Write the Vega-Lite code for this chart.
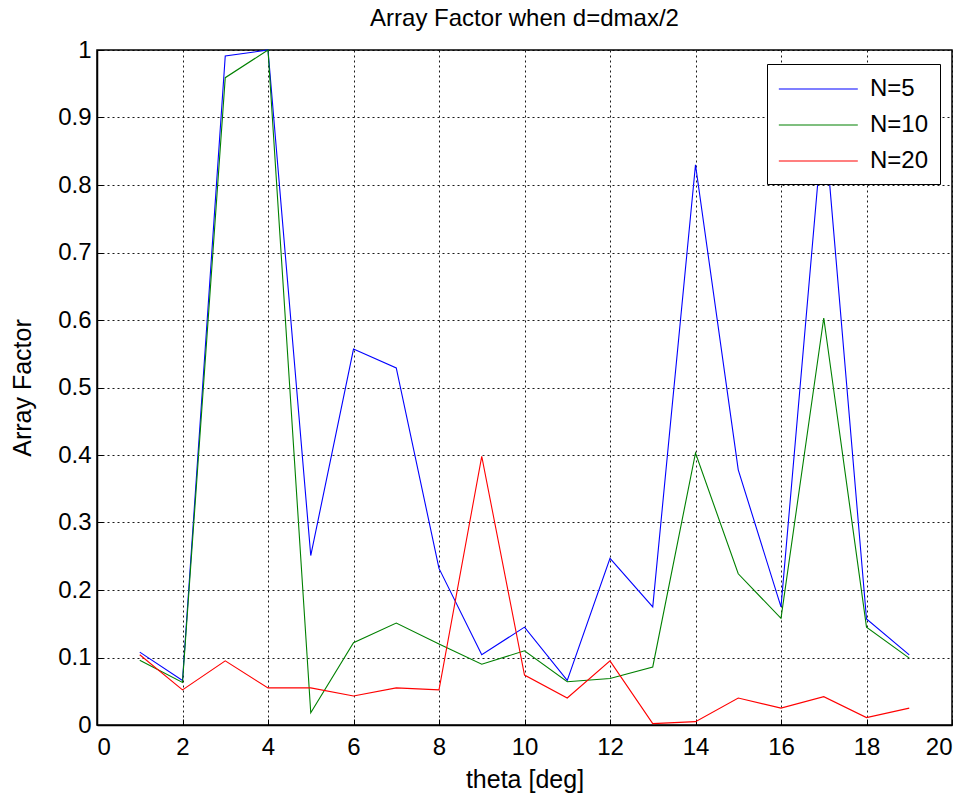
{
  "$schema": "https://vega.github.io/schema/vega-lite/v6.json",
  "autosize": {"type": "none"},
  "padding": {"left": 97, "top": 50, "right": 20, "bottom": 73},
  "width": 855,
  "height": 675,
  "background": "white",
  "title": {"text": "Array Factor when d=dmax/2", "fontSize": 24, "fontWeight": "normal", "font": "Liberation Sans", "color": "black", "offset": 7},
  "config": {
    "view": {"stroke": "black", "strokeWidth": 1.5},
    "font": "Liberation Sans"
  },
  "data": {"values": [
    {"theta": 1, "af": 0.108, "series": "N=5"},
    {"theta": 2, "af": 0.066, "series": "N=5"},
    {"theta": 3, "af": 0.991, "series": "N=5"},
    {"theta": 4, "af": 1.0, "series": "N=5"},
    {"theta": 5, "af": 0.251, "series": "N=5"},
    {"theta": 6, "af": 0.557, "series": "N=5"},
    {"theta": 7, "af": 0.529, "series": "N=5"},
    {"theta": 8, "af": 0.232, "series": "N=5"},
    {"theta": 9, "af": 0.104, "series": "N=5"},
    {"theta": 10, "af": 0.145, "series": "N=5"},
    {"theta": 11, "af": 0.066, "series": "N=5"},
    {"theta": 12, "af": 0.247, "series": "N=5"},
    {"theta": 13, "af": 0.175, "series": "N=5"},
    {"theta": 14, "af": 0.83, "series": "N=5"},
    {"theta": 15, "af": 0.378, "series": "N=5"},
    {"theta": 16, "af": 0.175, "series": "N=5"},
    {"theta": 17, "af": 0.905, "series": "N=5"},
    {"theta": 18, "af": 0.157, "series": "N=5"},
    {"theta": 19, "af": 0.104, "series": "N=5"},
    {"theta": 1, "af": 0.096, "series": "N=10"},
    {"theta": 2, "af": 0.063, "series": "N=10"},
    {"theta": 3, "af": 0.959, "series": "N=10"},
    {"theta": 4, "af": 1.0, "series": "N=10"},
    {"theta": 5, "af": 0.018, "series": "N=10"},
    {"theta": 6, "af": 0.122, "series": "N=10"},
    {"theta": 7, "af": 0.151, "series": "N=10"},
    {"theta": 8, "af": 0.12, "series": "N=10"},
    {"theta": 9, "af": 0.09, "series": "N=10"},
    {"theta": 10, "af": 0.11, "series": "N=10"},
    {"theta": 11, "af": 0.064, "series": "N=10"},
    {"theta": 12, "af": 0.069, "series": "N=10"},
    {"theta": 13, "af": 0.086, "series": "N=10"},
    {"theta": 14, "af": 0.403, "series": "N=10"},
    {"theta": 15, "af": 0.224, "series": "N=10"},
    {"theta": 16, "af": 0.158, "series": "N=10"},
    {"theta": 17, "af": 0.603, "series": "N=10"},
    {"theta": 18, "af": 0.145, "series": "N=10"},
    {"theta": 19, "af": 0.099, "series": "N=10"},
    {"theta": 1, "af": 0.104, "series": "N=20"},
    {"theta": 2, "af": 0.052, "series": "N=20"},
    {"theta": 3, "af": 0.095, "series": "N=20"},
    {"theta": 4, "af": 0.055, "series": "N=20"},
    {"theta": 5, "af": 0.055, "series": "N=20"},
    {"theta": 6, "af": 0.043, "series": "N=20"},
    {"theta": 7, "af": 0.055, "series": "N=20"},
    {"theta": 8, "af": 0.052, "series": "N=20"},
    {"theta": 9, "af": 0.398, "series": "N=20"},
    {"theta": 10, "af": 0.074, "series": "N=20"},
    {"theta": 11, "af": 0.04, "series": "N=20"},
    {"theta": 12, "af": 0.095, "series": "N=20"},
    {"theta": 13, "af": 0.002, "series": "N=20"},
    {"theta": 14, "af": 0.005, "series": "N=20"},
    {"theta": 15, "af": 0.04, "series": "N=20"},
    {"theta": 16, "af": 0.025, "series": "N=20"},
    {"theta": 17, "af": 0.042, "series": "N=20"},
    {"theta": 18, "af": 0.011, "series": "N=20"},
    {"theta": 19, "af": 0.025, "series": "N=20"}
  ]},
  "mark": {"type": "line", "strokeWidth": 1.1},
  "encoding": {
    "x": {
      "field": "theta", "type": "quantitative",
      "scale": {"domain": [0, 20], "nice": false, "zero": false},
      "axis": {
        "title": "theta [deg]", "titleFontSize": 25, "titleFontWeight": "normal", "titleColor": "black", "titlePadding": 8,
        "values": [0, 2, 4, 6, 8, 10, 12, 14, 16, 18, 20],
        "labelFontSize": 24, "labelColor": "black", "labelPadding": 16,
        "tickSize": -6, "tickColor": "black", "domainColor": "black", "domainWidth": 1.5,
        "grid": true, "gridColor": "black", "gridDash": [2, 3], "gridWidth": 1, "gridOpacity": 0.9
      }
    },
    "y": {
      "field": "af", "type": "quantitative",
      "scale": {"domain": [0, 1], "nice": false},
      "axis": {
        "title": "Array Factor", "titleFontSize": 25, "titleFontWeight": "normal", "titleColor": "black", "titlePadding": 22,
        "values": [0, 0.1, 0.2, 0.3, 0.4, 0.5, 0.6, 0.7, 0.8, 0.9, 1],
        "format": "~g",
        "labelFontSize": 24, "labelColor": "black", "labelPadding": 12,
        "tickSize": -6, "tickColor": "black", "domainColor": "black", "domainWidth": 1.5,
        "grid": true, "gridColor": "black", "gridDash": [2, 3], "gridWidth": 1, "gridOpacity": 0.9
      }
    },
    "color": {
      "field": "series", "type": "nominal",
      "scale": {"domain": ["N=5", "N=10", "N=20"], "range": ["#0000FF", "#008000", "#FF0000"]},
      "legend": {
        "title": null, "orient": "none", "legendX": 670, "legendY": 14,
        "symbolType": "M-1,0H5", "symbolSize": 693, "symbolStrokeWidth": 1.2,
        "labelFontSize": 24, "labelColor": "black", "labelOffset": 64,
        "rowPadding": 10, "padding": 11,
        "strokeColor": "black", "fillColor": "white"
      }
    }
  }
}
